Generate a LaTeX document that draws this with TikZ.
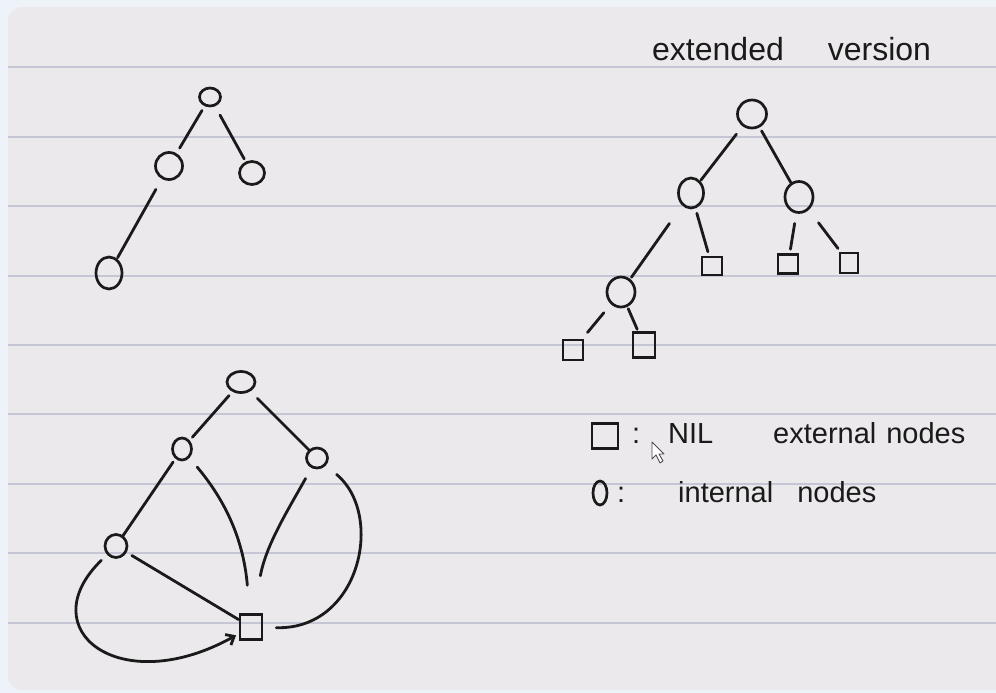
\documentclass[tikz,border=0pt]{standalone}
\usepackage{fontspec}
\setmainfont{Liberation Sans}
\usetikzlibrary{shapes.geometric,arrows.meta}
\definecolor{paper}{HTML}{EBE9EB}
\definecolor{frame}{HTML}{EEF3FA}
\definecolor{rulec}{HTML}{C6C5D6}
\definecolor{ink}{HTML}{1A1A1A}
\begin{document}
\begin{tikzpicture}[x=1pt,y=1pt,
  inode/.style={ellipse,draw=ink,line width=2.7pt,inner sep=0pt},
  xnode/.style={rectangle,draw=ink,line width=2.7pt,inner sep=0pt},
  sz/.style 2 args={minimum width=#1pt,minimum height=#2pt},
  edge/.style={draw=ink,line width=2.8pt,line cap=round},
  hand/.style={text=ink,inner sep=0pt,anchor=base west},
  big/.style={hand,font=\fontsize{32}{38}\selectfont},
  mid/.style={hand,font=\fontsize{29}{35}\selectfont}]
\useasboundingbox (0,0) rectangle (996,-693);
% paper
\fill[frame] (0,0) rectangle (996,-693);
\fill[paper,rounded corners=14pt] (8,-7) rectangle (1012,-690);
\foreach \yy in {67,136.5,206,275.5,345,414,483.5,553,622.5}
  \draw[rulec,line width=2pt] (8,-\yy) -- (996,-\yy);

% ---------- tree 1 (top left)
\node[inode,sz={21}{18}] (r1) at (210,-97) {};
\node[inode,sz={27}{27}] (a1) at (169,-166) {};
\node[inode,sz={25}{23}] (b1) at (252,-173) {};
\node[inode,sz={26}{32}] (c1) at (109,-273) {};
\draw[edge,shorten <=5pt,shorten >=6pt] (r1) -- (a1);
\draw[edge,shorten <=10pt,shorten >=3pt] (r1) -- (b1);
\draw[edge,shorten <=12pt,shorten >=1pt] (a1) -- (c1);

% ---------- tree 2 (extended version)
\node[big] (title) at (652,-61) {extended\hspace{44pt}version};
\node[inode,sz={29}{28}] (r2) at (752,-114) {};
\node[inode,sz={25}{30}] (a2) at (691,-193) {};
\node[inode,sz={28}{31}] (b2) at (799,-197) {};
\node[inode,sz={28}{30}] (c2) at (621,-292) {};
\node[xnode,sz={20}{18}] (s2a) at (712,-266) {};
\node[xnode,sz={20}{19}] (s2b) at (788,-264) {};
\node[xnode,sz={18}{20}] (s2c) at (849,-263) {};
\node[xnode,sz={20}{20}] (s2d) at (573,-350) {};
\node[xnode,sz={22}{25}] (s2e) at (644,-345) {};
\draw[edge,shorten <=10pt,shorten >=1pt] (r2) -- (a2);
\draw[edge,shorten <=4pt,shorten >=0pt] (r2) -- (b2);
\draw[edge,shorten <=22pt,shorten >=2pt] (a2) -- (c2);
\draw[edge,shorten <=5pt,shorten >=4pt] (a2) -- (s2a);
\draw[edge,shorten <=10pt,shorten >=4pt] (b2) -- (s2b);
\draw[edge,shorten <=16pt,shorten >=4pt] (b2) -- (s2c);
\draw[edge,shorten <=11pt,shorten >=8pt] (c2) -- (s2d);
\draw[edge,shorten <=2pt,shorten >=2pt] (c2) -- (s2e);

% ---------- tree 3 (threaded to NIL)
\node[inode,sz={28}{21}] (r3) at (241,-382) {};
\node[inode,sz={19}{22}] (a3) at (182,-449) {};
\node[inode,sz={21}{20}] (b3) at (317,-458) {};
\node[inode,sz={22}{23}] (c3) at (116,-546) {};
\node[xnode,sz={22}{25}] (n3) at (251,-627) {};
\draw[edge,shorten <=5pt,shorten >=4pt] (r3) -- (a3);
\draw[edge,shorten <=10pt,shorten >=0pt] (r3) -- (b3);
\draw[edge,shorten <=4pt,shorten >=0pt] (a3) -- (c3);
\draw[edge,shorten <=6pt,shorten >=0pt] (c3) -- (n3);
\draw[edge,shorten <=12pt,shorten >=28pt] (a3) to[out=-50,in=95] (n3);
\draw[edge,shorten <=12pt,shorten >=38pt] (b3) .. controls (288,-510) and (266,-545) .. (n3);
\draw[edge,shorten <=14pt,shorten >=13pt] (b3) .. controls (385,-515) and (360,-630) .. (n3);
\draw[edge,-{Straight Barb[length=7pt,width=12pt]},shorten <=8pt,shorten >=3pt]
  (c3) .. controls (30,-630) and (120,-700) .. (n3);

% ---------- legend
\node[xnode,sz={26}{25}] (lsq) at (605,-436) {};
\node[mid] (lc1) at (632,-443) {:};
\node[mid] (lnil) at (668,-443) {NIL};
\node[mid] (lext) at (773,-443) {external\hspace{10pt}nodes};
\node[inode,sz={14}{24}] (lo) at (600,-493) {};
\node[mid] (lc2) at (617,-502) {:};
\node[mid] (lint) at (678,-502) {internal\hspace{24pt}nodes};
% mouse pointer
\draw[fill=white,draw=gray!60!black,line width=0.9pt,line join=round]
  (652,-442) -- (652,-459) -- (656,-455) -- (660,-463) -- (663,-461)
  -- (659,-454) -- (664,-454) -- cycle;
\end{tikzpicture}
\end{document}
